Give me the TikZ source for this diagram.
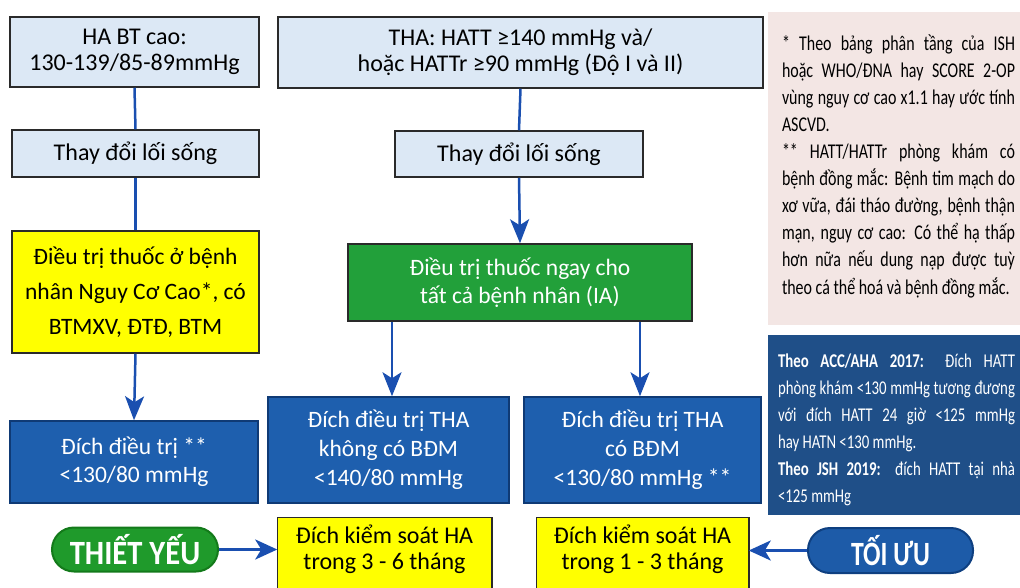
\documentclass[tikz,border=0pt]{standalone}
\usepackage{fontspec}
\setmainfont{Carlito}
\newfontfamily\notefont[FakeStretch=0.76]{Carlito}
\newfontfamily\pillfont[FakeStretch=0.9]{Carlito Bold}
\newfontfamily\pillfontb[FakeStretch=0.76]{Carlito Bold}
\usetikzlibrary{arrows.meta,backgrounds}
\definecolor{lightbox}{HTML}{DCE8F5}
\definecolor{bordc}{HTML}{2A2A2A}
\definecolor{yel}{HTML}{FFFF00}
\definecolor{grn}{HTML}{22A03A}
\definecolor{blu}{HTML}{1E5FAE}
\definecolor{bluedark}{HTML}{0F3A75}
\definecolor{conn}{HTML}{1A4FB0}
\definecolor{pinkn}{HTML}{F3E6E4}
\definecolor{noteblue}{HTML}{1F4F88}
\definecolor{pillg}{HTML}{1F9A2B}
\definecolor{pillgd}{HTML}{137A1A}
\definecolor{pillb}{HTML}{1D5BA8}
\definecolor{pillbd}{HTML}{0E3F80}
\tikzset{
  basebox/.style={draw=bordc, line width=1.5pt, align=center, inner sep=0pt,
    font=\fontsize{24}{26}\selectfont},
  topbox/.style={basebox, fill=lightbox, text=black},
  yelbox/.style={basebox, fill=yel, text=black},
  grnbox/.style={basebox, fill=grn, text=white, font=\fontsize{23.5}{28}\selectfont},
  blubox/.style={basebox, fill=blu, draw=bluedark, text=white, font=\fontsize{23.5}{29}\selectfont},
  pill/.style={rounded corners=22pt, line width=2pt, text=white, inner sep=0pt},
  plainline/.style={draw=conn, line width=2.5pt},
  arr/.style={plainline, -{Stealth[length=24pt,width=19pt,inset=6pt]}},
  harr/.style={plainline, line width=3pt, -{Stealth[length=22pt,width=20pt,inset=6pt]}},
}
\begin{document}
\begin{tikzpicture}[x=1pt,y=-1pt]
\useasboundingbox (0,0) rectangle (1020,587);
% top row
\node (A) [topbox, minimum width=249, minimum height=70] at (134.5,52) {HA BT cao:\\130-139/85-89mmHg};
\node (B) [topbox, minimum width=485, minimum height=71] at (520.5,52.5) {THA: HATT ≥140 mmHg và/\\hoặc HATTr ≥90 mmHg (Độ I và II)};
\node (C) [topbox, minimum width=247, minimum height=47] at (135.5,153.5) {Thay đổi lối sống};
\node (D) [topbox, minimum width=248, minimum height=46] at (519,154) {Thay đổi lối sống};
% middle
\node (Y1) [yelbox, font=\fontsize{23.5}{35}\selectfont, minimum width=247, minimum height=122] at (135.5,292) {Điều trị thuốc ở bệnh\\nhân Nguy Cơ Cao*, có\\BTMXV, ĐTĐ, BTM};
\node (G) [grnbox, minimum width=344, minimum height=77] at (520,282.5) {Điều trị thuốc ngay cho\\tất cả bệnh nhân (IA)};
\node (L) [blubox, font=\fontsize{23.5}{28}\selectfont, minimum width=248, minimum height=82] at (134,462) {Đích điều trị **\\<130/80 mmHg};
\node (M) [blubox, minimum width=241, minimum height=106] at (388.5,450) {Đích điều trị THA\\không có BĐM\\<140/80 mmHg};
\node (R) [blubox, minimum width=237, minimum height=106] at (642.5,450) {Đích điều trị THA\\có BĐM\\<130/80 mmHg **};
% bottom row
\node (P1) [pill, fill=pillg, draw=pillgd, minimum width=166, minimum height=44, font=\pillfont\fontsize{34}{34}\selectfont] at (135,549.5) {THIẾT YẾU};
\node (Y2) [yelbox, draw=none, fill=none, minimum width=213, minimum height=62] at (384.5,549) {Đích kiểm soát HA\\trong 3 - 6 tháng};
\node (Y3) [yelbox, draw=none, fill=none, minimum width=211, minimum height=62] at (642.5,549) {Đích kiểm soát HA\\trong 1 - 3 tháng};
\node (P2) [pill, fill=pillb, draw=pillbd, minimum width=165, minimum height=45, font=\pillfontb\fontsize{34}{34}\selectfont] at (890.5,550.5) {TỐI ƯU};
\begin{scope}[on background layer]
\fill[yel] (Y2.north west) rectangle ([yshift=-25pt]Y2.south east);
\fill[yel] (Y3.north west) rectangle ([yshift=-25pt]Y3.south east);
\end{scope}
\draw[draw=bordc, line width=1.5pt] ([yshift=-25pt]Y2.south west) -- (Y2.north west) -- (Y2.north east) -- ([yshift=-25pt]Y2.south east);
\draw[draw=bordc, line width=1.5pt] ([yshift=-25pt]Y3.south west) -- (Y3.north west) -- (Y3.north east) -- ([yshift=-25pt]Y3.south east);
% connectors
\draw[plainline] (A.south) -- (C.north);
\draw[plainline] (C.south) -- (Y1.north);
\draw[arr] (Y1.south) -- (L.north);
\draw[plainline] (B.south) -- (D.north);
\draw[arr] (D.south) -- (G.north);
\draw[arr] ([xshift=3.5pt]G.south -| M.north) -- ([xshift=3.5pt]M.north);
\draw[arr] ([xshift=-2.5pt]G.south -| R.north) -- ([xshift=-2.5pt]R.north);
\draw[harr] (P1.east) -- (P1.east -| Y2.west);
\draw[harr] (P2.west) -- (P2.west -| Y3.east);
% notes
\node (N1) [fill=pinkn, minimum width=252, minimum height=313, inner sep=0pt] at (894,168.5) {};
\node (N1t) [text width=233pt, align=justify, inner sep=0pt, font=\notefont\fontsize{21}{27.1}\selectfont] at (898.5,166) {* Theo bảng phân tầng của ISH\linebreak hoặc WHO/ĐNA hay SCORE 2-OP\linebreak vùng nguy cơ cao x1.1 hay ước tính\linebreak ASCVD.\par ** HATT/HATTr phòng khám có\linebreak bệnh đồng mắc: Bệnh tim mạch do\linebreak xơ vữa, đái tháo đường, bệnh thận\linebreak mạn, nguy cơ cao: Có thể hạ thấp\linebreak hơn nữa nếu dung nạp được tuỳ\linebreak theo cá thể hoá và bệnh đồng mắc.};
\node (N2) [fill=noteblue, minimum width=252, minimum height=180, inner sep=0pt] at (894,425) {};
\node (N2t) [text width=237pt, align=justify, inner sep=0pt, text=white, font=\notefont\fontsize{19.5}{27}\selectfont] at (896.5,430) {\textbf{Theo ACC/AHA 2017:} Đích HATT\linebreak phòng khám <130 mmHg tương đương\linebreak với đích HATT 24 giờ <125 mmHg\linebreak hay HATN <130 mmHg.\par \textbf{Theo JSH 2019:} đích HATT tại nhà\linebreak <125 mmHg};
\end{tikzpicture}
\end{document}
